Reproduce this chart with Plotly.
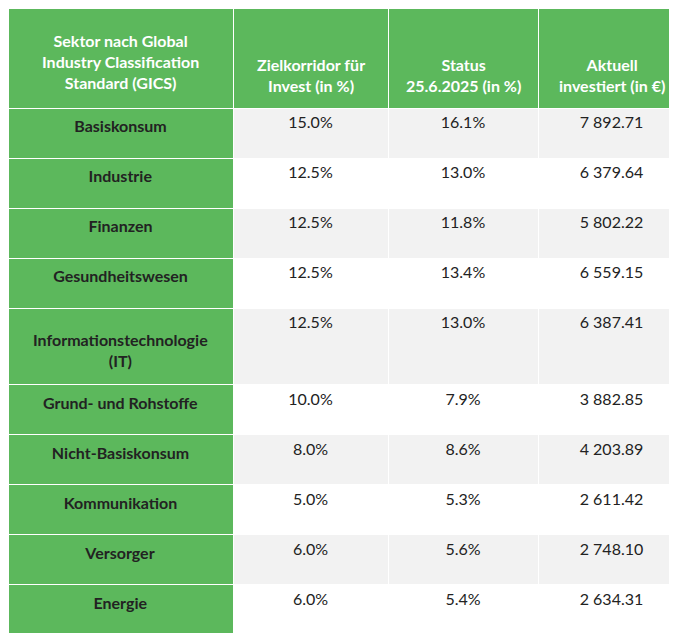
import plotly.graph_objects as go

headers = ["Sektor nach Global<br>Industry Classification<br>Standard (GICS)",
           "Zielkorridor für<br>Invest (in %)",
           "Status<br>25.6.2025 (in %)",
           "Aktuell<br>investiert (in €)"]
sectors = ["Basiskonsum", "Industrie", "Finanzen", "Gesundheitswesen",
           "Informationstechnologie<br>(IT)", "Grund- und Rohstoffe",
           "Nicht-Basiskonsum", "Kommunikation", "Versorger", "Energie"]
target = ["15.0%", "12.5%", "12.5%", "12.5%", "12.5%", "10.0%", "8.0%", "5.0%", "6.0%", "6.0%"]
status = ["16.1%", "13.0%", "11.8%", "13.4%", "13.0%", "7.9%", "8.6%", "5.3%", "5.6%", "5.4%"]
invested = ["7 892.71", "6 379.64", "5 802.22", "6 559.15", "6 387.41",
            "3 882.85", "4 203.89", "2 611.42", "2 748.10", "2 634.31"]

W, H = 677, 633
green = "#5cb85c"
rowfill = ["#f2f2f2" if i % 2 == 0 else "#ffffff" for i in range(len(sectors))]
colw = [225, 155, 150, 147]

# multi-line cells are drawn as centered annotations; table keeps the row height
cell_first = [" <br> <br> " if "<br>" in s else f"<b>{s}</b>" for s in sectors]

fig = go.Figure(go.Table(
    columnwidth=colw,
    header=dict(values=["", "", "", ""],
                fill_color=green, line_color="white", line_width=1,
                font=dict(color="white", size=16, family="Lato"),
                align="center", height=100),
    cells=dict(values=[cell_first, target, status, invested],
               fill_color=[[green] * len(sectors), rowfill, rowfill, rowfill],
               line_color="white", line_width=1,
               font=dict(color="#222222", size=16, family="Lato"),
               align="center", height=50)
))

centers = []
acc = 0
for w in colw:
    centers.append((acc + w / 2) / sum(colw))
    acc += w

header_y = [54, 67, 67, 67]
for h, cx, cy in zip(headers, centers, header_y):
    fig.add_annotation(x=cx, y=1 - cy / H, xref="paper", yref="paper",
                       text=f"<b>{h}</b>", showarrow=False, align="center",
                       xanchor="center", yanchor="middle",
                       font=dict(color="white", size=16, family="Lato"))

for i, s in enumerate(sectors):
    if "<br>" in s:
        fig.add_annotation(x=centers[0], y=1 - 342 / H, xref="paper", yref="paper",
                           text=f"<b>{s}</b>", showarrow=False, align="center",
                           xanchor="center", yanchor="middle",
                           font=dict(color="#222222", size=16, family="Lato"))

fig.update_layout(width=W, height=H, margin=dict(l=0, r=0, t=0, b=0),
                  paper_bgcolor="white")
fig.write_html("out.html")
